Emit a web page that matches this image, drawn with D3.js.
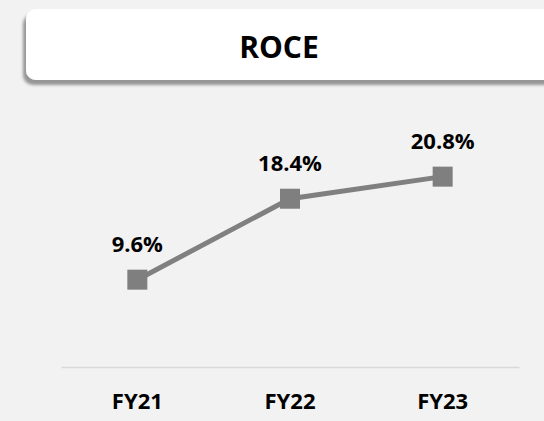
<!DOCTYPE html>
<html lang="en">
<head>
<meta charset="UTF-8">
<title>ROCE</title>
<script src="https://cdn.jsdelivr.net/npm/d3@7/dist/d3.min.js"></script>
<style>
	html, body { margin: 0; padding: 0; background: #f2f2f2; }
	text { font-family: "Open Sans", "DejaVu Sans", sans-serif; font-weight: bold; fill: #000; }
</style>
</head>
<body>
<div id="vis"></div>
<script>
	var width = 544;
	var height = 421;

	// chart data
	var categories = ["FY21", "FY22", "FY23"];
	var values = [9.6, 18.4, 20.8];
	var valueLabels = ["9.6%", "18.4%", "20.8%"];
	var title = "ROCE";

	var svg = d3.select("#vis").append("svg")
		.attr("width", width)
		.attr("height", height);

	svg.append("rect")
		.attr("width", width)
		.attr("height", height)
		.attr("fill", "#f2f2f2");

	// shadow for the title box
	var defs = svg.append("defs");
	defs.append("filter")
		.attr("id", "shadow")
		.attr("x", "-10%").attr("y", "-30%")
		.attr("width", "130%").attr("height", "180%")
		.append("feDropShadow")
		.attr("dx", -3)
		.attr("dy", 5)
		.attr("stdDeviation", 1.8)
		.attr("flood-color", "#000")
		.attr("flood-opacity", 0.38);

	// title box
	svg.append("rect")
		.attr("x", 26)
		.attr("y", 9)
		.attr("width", 540)
		.attr("height", 71)
		.attr("rx", 10)
		.attr("fill", "#fff")
		.style("filter", "url(#shadow)");

	svg.append("text")
		.attr("x", 279)
		.attr("y", 58)
		.attr("text-anchor", "middle")
		.style("font-size", "30px")
		.text(title);

	// scales
	var x = d3.scaleBand()
		.domain(categories)
		.range([61, 519]);

	var y = d3.scaleLinear()
		.domain([0, 25])
		.range([368, 138]);

	// category axis
	var axis = svg.append("g")
		.attr("transform", "translate(0," + 367 + ")")
		.call(d3.axisBottom(x).tickSize(0).tickPadding(26));
	axis.select(".domain")
		.attr("stroke", "#d9d9d9")
		.attr("stroke-width", 1.5);
	axis.selectAll("text")
		.style("font-family", "'Open Sans', sans-serif")
		.style("font-weight", "bold")
		.style("font-size", "22px")
		.attr("fill", "#000");

	var cx = function(d, i) { return x(categories[i]) + x.bandwidth() / 2; };

	// the line
	var line = d3.line()
		.x(function(d, i) { return cx(d, i); })
		.y(function(d) { return y(d); });

	svg.append("path")
		.datum(values)
		.attr("d", line)
		.attr("fill", "none")
		.attr("stroke", "#808080")
		.attr("stroke-width", 5);

	// square markers
	var size = 20;
	svg.selectAll(".marker")
		.data(values)
		.enter().append("rect")
		.attr("class", "marker")
		.attr("x", function(d, i) { return cx(d, i) - size / 2; })
		.attr("y", function(d) { return y(d) - size / 2; })
		.attr("width", size)
		.attr("height", size)
		.attr("fill", "#7f7f7f");

	// value labels
	svg.selectAll(".label")
		.data(values)
		.enter().append("text")
		.attr("class", "label")
		.attr("x", function(d, i) { return cx(d, i); })
		.attr("y", function(d) { return y(d) - 28; })
		.attr("text-anchor", "middle")
		.style("font-size", "22px")
		.text(function(d, i) { return valueLabels[i]; });
</script>
</body>
</html>
